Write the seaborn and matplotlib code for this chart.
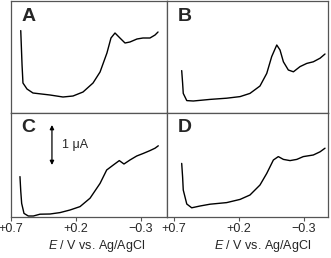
import numpy as np
import pandas as pd
import seaborn as sns
import matplotlib.pyplot as plt

sns.set_style("white")
plt.rcParams['font.family'] = ['Liberation Sans', 'DejaVu Sans']
plt.rcParams['mathtext.fontset'] = 'custom'
plt.rcParams['mathtext.it'] = 'Liberation Sans:italic'
plt.rcParams['mathtext.rm'] = 'Liberation Sans'

# potential (V) and current (uA)
a_E = [0.625, 0.615, 0.608, 0.577, 0.531, 0.40, 0.30, 0.223, 0.146, 0.069, 0.015, -0.038, -0.069,
       -0.10, -0.138, -0.177, -0.215, -0.269, -0.315, -0.369, -0.408, -0.431]
a_I = [2.06, 1.2, 0.75, 0.60, 0.50, 0.45, 0.40, 0.425, 0.525, 0.75, 1.025, 1.5, 1.875,
       2.0, 1.875, 1.75, 1.775, 1.85, 1.875, 1.875, 1.95, 2.025]

b_E = [0.637, 0.630, 0.625, 0.598, 0.548, 0.419, 0.291, 0.188, 0.112, 0.035, -0.017, -0.055,
       -0.094, -0.119, -0.145, -0.183, -0.222, -0.273, -0.325, -0.375, -0.427, -0.465]
b_I = [1.06, 0.75, 0.49, 0.31, 0.30, 0.34, 0.37, 0.41, 0.49, 0.675, 0.99, 1.41,
       1.70, 1.575, 1.28, 1.075, 1.03, 1.16, 1.24, 1.28, 1.37, 1.475]

c_E = [0.631, 0.625, 0.618, 0.60, 0.567, 0.528, 0.477, 0.40, 0.323, 0.246, 0.169, 0.092, 0.015,
       -0.036, -0.087, -0.133, -0.169, -0.215, -0.267, -0.318, -0.369, -0.408, -0.433]
c_I = [1.01, 0.65, 0.34, 0.09, 0.025, 0.025, 0.07, 0.075, 0.11, 0.175, 0.26, 0.47, 0.84,
       1.175, 1.30, 1.41, 1.325, 1.425, 1.525, 1.59, 1.66, 1.72, 1.78]

d_E = [0.637, 0.630, 0.625, 0.598, 0.56, 0.496, 0.419, 0.291, 0.188, 0.112, 0.035, -0.017,
       -0.068, -0.106, -0.145, -0.196, -0.248, -0.298, -0.375, -0.427, -0.465]
d_I = [1.34, 1.0, 0.675, 0.325, 0.23, 0.275, 0.32, 0.36, 0.44, 0.55, 0.80, 1.09,
       1.425, 1.51, 1.44, 1.41, 1.44, 1.51, 1.55, 1.63, 1.72]

tick_pos = [0.7, 0.2, -0.3]
tick_lab = ["+0.7", "+0.2", "\u22120.3"]

W, H = 331, 258
fig = plt.figure(figsize=(W / 100, H / 100), dpi=100)

def box(x0, y0, x1, y1):
    return [x0 / W, 1 - y1 / H, (x1 - x0) / W, (y1 - y0) / H]

panels = [
    ("A", a_E, a_I, box(11, 1, 167, 113), (0.7, -0.5), 2.8, False),
    ("B", b_E, b_I, box(167, 1, 328, 113), (0.75, -0.488), 2.8, False),
    ("C", c_E, c_I, box(11, 113, 167, 217), (0.7, -0.5), 2.6, True),
    ("D", d_E, d_I, box(167, 113, 328, 217), (0.75, -0.488), 2.6, True),
]

for name, E, I, pos, xl, ytop, bottom in panels:
    ax = fig.add_axes(pos)
    df = pd.DataFrame({"E": E, "I": I})
    sns.lineplot(data=df, x="E", y="I", sort=False, color="black", lw=1.0, ax=ax,
                 solid_joinstyle="round")
    ax.set_xlim(*xl)
    ax.set_ylim(0, ytop)
    ax.set_xlabel("")
    ax.set_ylabel("")
    ax.set_yticks([])
    for s in ax.spines.values():
        s.set_color("#555555")
        s.set_linewidth(0.9)
    if bottom:
        ax.set_xticks(tick_pos)
        ax.set_xticklabels(tick_lab, fontsize=9)
        ax.tick_params(axis="x", direction="out", length=3, width=0.8,
                       color="#555555", pad=1.5, bottom=True)
    else:
        ax.set_xticks([])
    ax.text(0.065, 0.94, name, transform=ax.transAxes, fontsize=14,
            fontweight="bold", va="top", ha="left")
    if name == "C":
        ax.annotate("", xy=(0.385, 2.3), xytext=(0.385, 1.3),
                    arrowprops=dict(arrowstyle="<|-|>", color="black", lw=0.9,
                                    mutation_scale=6, shrinkA=0, shrinkB=0))
        ax.text(0.31, 1.8, "1 \u03bcA", fontsize=9, va="center", ha="left")

for cx in [97, 263]:
    fig.text(cx / W, 1 - 246 / H, "$\\mathit{E}$ / V vs. Ag/AgCl", fontsize=9,
             ha="center", va="center")

fig.savefig("out.png", dpi=100, facecolor="white")
